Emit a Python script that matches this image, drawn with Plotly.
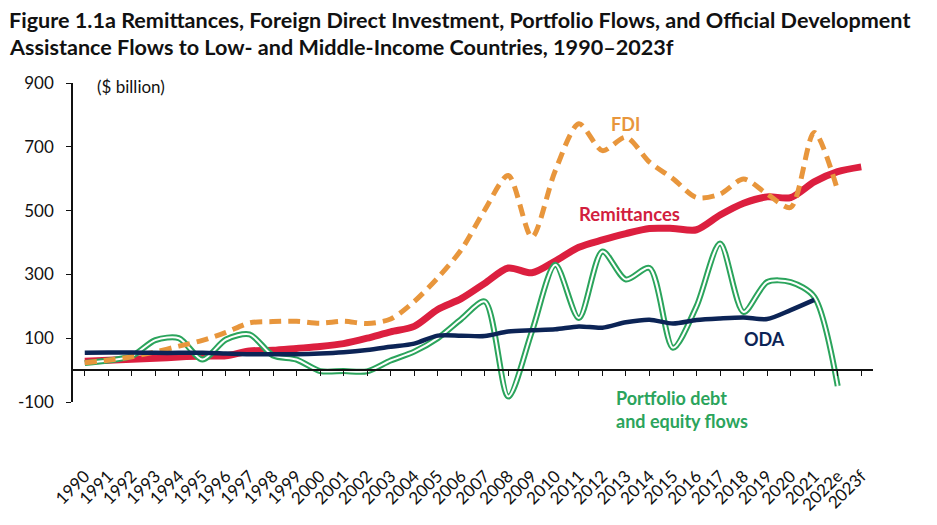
import plotly.graph_objects as go

years = ["1990", "1991", "1992", "1993", "1994", "1995", "1996", "1997", "1998", "1999",
         "2000", "2001", "2002", "2003", "2004", "2005", "2006", "2007", "2008", "2009",
         "2010", "2011", "2012", "2013", "2014", "2015", "2016", "2017", "2018", "2019",
         "2020", "2021", "2022e", "2023f"]

remittances = [28, 31, 34, 37, 41, 44, 45, 60, 62, 68, 74, 83, 100, 120, 137, 190, 224, 272,
               320, 305, 342, 385, 408, 428, 444, 444, 440, 486, 523, 543, 541, 590, 622, 637]

fdi = [23, 31, 42, 57, 75, 93, 118, 148, 152, 153, 147, 153, 146, 160, 215, 289, 377, 502,
       610, 417, 626, 772, 688, 730, 652, 600, 541, 552, 599, 552, 510, 745, 563, None]

oda = [54, 55, 55, 54, 54, 54, 52, 50, 50, 50, 52, 56, 63, 73, 83, 108, 108, 107,
       121, 125, 128, 137, 133, 150, 158, 146, 157, 162, 165, 160, 188, 220, None, None]

portfolio = [22, 30, 44, 94, 100, 33, 96, 112, 46, 33, -3, -3, -4, 30, 58, 100, 160, 215,
             -83, 120, 330, 163, 372, 284, 320, 70, 200, 397, 182, 276, 276, 230, -50, None]

y_ticks = [-100, 100, 300, 500, 700, 900]
y_tick_labels = ["-100", "100", "300", "500", "700", "900"]

RED = "#DC1F3F"
ORANGE = "#E8963C"
NAVY = "#0C2456"
GREEN = "#2BA45C"
FONT = "Lato"

idx = list(range(len(years)))

fig = go.Figure()

fig.add_trace(go.Scatter(x=idx, y=remittances, mode="lines", line=dict(color=RED, width=7, shape="spline", smoothing=0.8),
                         hoverinfo="skip", showlegend=False))
fig.add_trace(go.Scatter(x=idx, y=portfolio, mode="lines", line=dict(color=GREEN, width=6, shape="spline", smoothing=0.8),
                         hoverinfo="skip", showlegend=False))
fig.add_trace(go.Scatter(x=idx, y=portfolio, mode="lines", line=dict(color="white", width=2, shape="spline", smoothing=0.8),
                         hoverinfo="skip", showlegend=False))
fig.add_trace(go.Scatter(x=idx, y=fdi, mode="lines", line=dict(color=ORANGE, width=5, dash="12px,7px", shape="spline", smoothing=0.8),
                         hoverinfo="skip", showlegend=False))
fig.add_trace(go.Scatter(x=idx, y=oda, mode="lines", line=dict(color=NAVY, width=4.5, shape="spline", smoothing=0.8),
                         hoverinfo="skip", showlegend=False))
# invisible trace carrying the label axis
fig.add_trace(go.Scatter(x=idx, y=remittances, xaxis="x2", mode="lines", line=dict(width=0, color="rgba(0,0,0,0)"),
                         hoverinfo="skip", showlegend=False))

# page has an 8px body margin, so the figure is sized/offset to compensate
fig.update_layout(
    width=929, height=517,
    margin=dict(l=65, r=64, t=75, b=123, autoexpand=False),
    paper_bgcolor="white", plot_bgcolor="white",
    font=dict(family=FONT, size=16, color="#111111"),
    xaxis=dict(
        range=[-0.5, len(years) - 0.5], anchor="free", position=0.1,
        tickvals=idx, showticklabels=False, automargin=False,
        showline=True, linecolor="#111111", linewidth=1.5,
        ticks="outside", ticklen=5, tickcolor="#111111", tickwidth=1.2,
        showgrid=False, zeroline=False,
    ),
    xaxis2=dict(
        range=[-0.5, len(years) - 0.5], overlaying="x", anchor="free", position=0,
        tickvals=idx, ticktext=years, tickangle=-45, automargin=False,
        showline=False, ticks="", showgrid=False, zeroline=False,
        ticklabelstandoff=60, tickfont=dict(family=FONT, size=17, color="#111111"),
    ),
    yaxis=dict(
        range=[-100, 900], tickvals=y_ticks, ticktext=y_tick_labels, automargin=False,
        showline=True, linecolor="#111111", linewidth=1.5,
        ticks="outside", ticklen=5, tickcolor="#111111", tickwidth=1.2,
        showgrid=False, zeroline=False,
        tickfont=dict(family=FONT, size=17, color="#111111"),
        ticklabelstandoff=9,
    ),
)

def px(xp, yp):
    return (xp - 73) / 800, (402 - yp) / 319

anns = []
tx, ty = px(8, 20)
anns.append(dict(text="<b>Figure 1.1a Remittances, Foreign Direct Investment, Portfolio Flows, and Official Development</b>",
                 x=tx, y=ty, xanchor="left", yanchor="middle", borderpad=0, font=dict(family=FONT, size=21.6, color="#111111")))
tx, ty = px(8, 47)
anns.append(dict(text="<b>Assistance Flows to Low- and Middle-Income Countries, 1990–2023f</b>",
                 x=tx, y=ty, xanchor="left", yanchor="middle", borderpad=0, font=dict(family=FONT, size=21.6, color="#111111")))
tx, ty = px(95, 87)
anns.append(dict(text="($ billion)", x=tx, y=ty, xanchor="left", yanchor="middle", font=dict(family=FONT, size=17, color="#111111")))
tx, ty = px(625, 124)
anns.append(dict(text="<b>FDI</b>", x=tx, y=ty, xanchor="center", yanchor="middle", font=dict(family=FONT, size=18, color=ORANGE)))
tx, ty = px(629, 214)
anns.append(dict(text="<b>Remittances</b>", x=tx, y=ty, xanchor="center", yanchor="middle", font=dict(family=FONT, size=18.5, color="#D21E3E")))
tx, ty = px(764, 339)
anns.append(dict(text="<b>ODA</b>", x=tx, y=ty, xanchor="center", yanchor="middle", font=dict(family=FONT, size=18, color=NAVY)))
tx, ty = px(614, 409)
anns.append(dict(text="<b>Portfolio debt<br>and equity flows</b>", x=tx, y=ty, xanchor="left", yanchor="middle", align="left",
                 font=dict(family=FONT, size=18, color=GREEN)))
for a in anns:
    a.update(xref="paper", yref="paper", showarrow=False)
fig.update_layout(annotations=anns)

fig.write_html("out.html")
